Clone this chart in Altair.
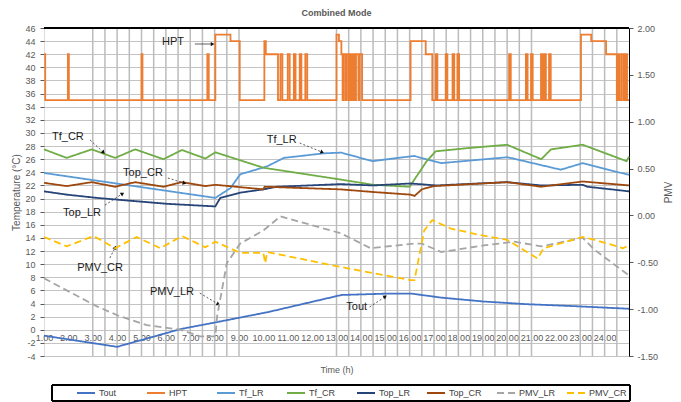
import math
import altair as alt
import pandas as pd

SERIES = ["Tout", "HPT", "Tf_LR", "Tf_CR", "Top_LR", "Top_CR", "PMV_LR", "PMV_CR"]
COLORS = ["#4472C4", "#ED7D31", "#5B9BD5", "#70AD47", "#264478", "#9E480E", "#A5A5A5", "#FFC000"]
DASHES = [[1, 0]] * 6 + [[7, 4], [7, 4]]

# ---- series data (time in hours) ----
tout_t = [0, 3.0, 5.6, 7.0, 9.2, 12.2, 14.0, 15.1, 16.3, 18.05, 19.8, 21.75, 24]
tout_v = [-0.9, -2.6, 0.1, 1.1, 2.7, 5.3, 5.5, 5.5, 4.9, 4.3, 3.9, 3.6, 3.2]

hpt_t = [0.0, 0.05, 0.98, 1.02, 4.0, 4.04, 6.7, 6.76, 7.03, 7.65, 8.03, 9.04, 9.1, 9.6, 9.7, 9.78,
         10.0, 10.08, 10.25, 10.32, 10.49, 10.56, 10.72, 10.8, 12.0, 12.1, 12.2, 12.25, 12.3, 12.38,
         12.42, 12.5, 12.55, 12.62, 12.68, 12.75, 12.8, 12.9, 12.95, 13.05, 15.04, 15.66, 15.93,
         16.07, 16.14, 16.48, 16.55, 16.76, 16.83, 16.96, 17.03, 19.08, 19.15, 19.77, 19.84, 19.98,
         20.05, 20.39, 20.46, 20.52, 20.59, 20.72, 20.79, 22.03, 22.45, 23.06, 23.5, 23.55, 23.62,
         23.7, 23.78, 23.85, 23.92, 24.0]
hpt_v = [42, 35, 42, 35, 42, 35, 42, 35, 45, 44, 35, 44, 42, 35, 42, 35,
         42, 35, 42, 35, 42, 35, 42, 35, 45, 44, 42, 35, 42, 35,
         42, 35, 42, 35, 42, 35, 42, 35, 42, 35, 44, 42, 35,
         42, 35, 42, 35, 42, 35, 42, 35, 42, 35, 42, 35, 42,
         35, 42, 35, 42, 35, 42, 35, 45, 44, 42, 35, 42, 35,
         42, 35, 42, 35, 35]

tflr_t = [0, 7.03, 7.65, 8.05, 9.15, 9.84, 11.5, 12.2, 13.47, 15.18, 16.28, 19.02, 21.2, 22.1, 24]
tflr_v = [23.9, 20.1, 21.6, 23.7, 24.9, 26.2, 26.9, 27.0, 25.7, 26.5, 25.4, 26.3, 24.4, 25.4, 23.6]

tfcr_t = [0, 0.93, 1.96, 2.92, 3.74, 4.9, 5.66, 6.62, 7.03, 9.0, 12.17, 13.5, 15.0, 15.7, 16.07,
          17.4, 19.0, 20.4, 20.8, 22.1, 23.9, 24]
tfcr_v = [27.5, 26.2, 27.5, 26.2, 27.5, 26.0, 27.4, 26.1, 27.05, 24.7, 22.9, 22.1, 21.8, 25.7, 27.2,
          27.7, 28.2, 26.0, 27.5, 28.2, 25.7, 26.4]

toplr_t = [0, 0.93, 2.17, 5.04, 7.03, 7.23, 8.05, 9.0, 9.56, 12.17, 13.5, 15.04, 16.1, 19.0, 20.4,
           22.1, 22.3, 24]
toplr_v = [21.1, 20.6, 20.1, 19.2, 18.8, 20.1, 20.9, 21.4, 21.8, 22.2, 22.0, 22.3, 22.0, 22.5, 22.0,
           22.1, 21.8, 21.1]

topcr_t = [0, 0.93, 1.96, 2.92, 3.74, 4.9, 5.66, 6.62, 7.03, 9.0, 9.05, 12.17, 13.5, 15.04, 15.2,
           15.5, 16.0, 19.0, 20.4, 22.1, 24]
topcr_v = [22.4, 21.9, 22.5, 21.8, 22.5, 21.8, 22.5, 21.9, 22.1, 21.4, 21.8, 21.4, 21.0, 20.6, 20.4,
           21.4, 21.9, 22.5, 21.8, 22.6, 22.0]

pmvlr_t = [0, 0.93, 2.17, 3.05, 4.22, 5.6, 6.4, 7.03, 7.1, 7.5, 8.05, 9.0, 9.7, 12.17, 13.4, 15.2,
           15.5, 16.3, 18.05, 19.3, 20.4, 22.1, 22.6, 24]
pmvlr_v = [-0.67, -0.80, -0.97, -1.07, -1.17, -1.22, -1.29, -1.29, -1.08, -0.51, -0.30, -0.16, -0.01,
           -0.19, -0.35, -0.30, -0.30, -0.39, -0.32, -0.28, -0.33, -0.24, -0.37, -0.64]

pmvcr_t = [0, 0.93, 2.03, 2.92, 3.8, 4.77, 5.66, 6.62, 7.03, 8.05, 9.0, 9.08, 9.15, 12.17, 15.04,
           15.2, 15.6, 15.93, 16.7, 17.9, 19.0, 20.25, 20.5, 22.1, 22.6, 23.75, 24]
pmvcr_v = [-0.23, -0.33, -0.22, -0.35, -0.23, -0.35, -0.22, -0.34, -0.28, -0.40, -0.40, -0.51, -0.39,
           -0.55, -0.69, -0.69, -0.16, -0.05, -0.14, -0.21, -0.26, -0.46, -0.35, -0.23, -0.26, -0.35,
           -0.32]

x_ticks = list(range(24))
left_ticks = list(range(-4, 47, 2))
right_ticks = [-1.5, -1.0, -0.5, 0.0, 0.5, 1.0, 1.5, 2.0]
vgrid_hours = [2.0 + 0.5 * i for i in range(13)] + [12.0 + 0.5 * i for i in range(17)] + [22.0, 22.5, 23.0, 23.5]

ann_text = ["HPT", "Tf_CR", "Tf_LR", "Top_CR", "Top_LR", "PMV_CR", "PMV_LR", "Tout"]
ann_tx = [5.29, 0.98, 9.75, 4.06, 1.56, 2.30, 5.25, 12.83]
ann_ty = [43.9, 29.4, 29.0, 23.9, 17.8, 9.4, 5.8, 3.4]
lead_t1 = [6.19, 1.89, 10.49, 5.08, 2.5, 2.7, 6.39, 13.36]
lead_v1 = [43.56, 28.93, 28.47, 23.13, 19.0, 10.94, 5.6, 3.47]
lead_t2 = [6.89, 2.42, 11.39, 5.74, 3.2, 2.91, 7.13, 13.98]
lead_v2 = [43.56, 27.1, 27.1, 22.37, 20.7, 12.46, 3.93, 5.0]

# ---- frames ----
W, H = 585, 328
PX_H = W / 24.0
PX_T = H / 50.0


def frame(name, ts, vs):
    return pd.DataFrame({"t": ts, "v": vs, "series": name})


temps = pd.concat([frame("Tout", tout_t, tout_v), frame("Tf_LR", tflr_t, tflr_v),
                   frame("Tf_CR", tfcr_t, tfcr_v), frame("Top_LR", toplr_t, toplr_v),
                   frame("Top_CR", topcr_t, topcr_v)], ignore_index=True)
hpt = frame("HPT", hpt_t, hpt_v)
pmv = pd.concat([frame("PMV_LR", pmvlr_t, pmvlr_v), frame("PMV_CR", pmvcr_t, pmvcr_v)], ignore_index=True)
vgrid = pd.DataFrame({"t": vgrid_hours})
ann = pd.DataFrame({"label": ann_text, "t": ann_tx, "v": ann_ty})
angles = []
for a, b, c, d in zip(lead_t1, lead_v1, lead_t2, lead_v2):
    dx = (c - a) * PX_H
    dy = -(d - b) * PX_T
    angles.append(math.degrees(math.atan2(dx, -dy)) % 360)
leads = pd.DataFrame({"t": lead_t1, "v": lead_v1, "t2": lead_t2, "v2": lead_v2,
                      "ang": angles, "solid": [1, 0, 0, 0, 0, 0, 0, 0]})

FONT = "Liberation Sans"
GRAY = "#595959"

x_scale = alt.Scale(domain=[0, 24], nice=False, zero=False)
x_axis = alt.Axis(values=x_ticks, labelExpr="format(datum.value + 1, '.2f')", title="Time (h)",
                  grid=False, domain=False, ticks=False, offset=-26, labelFontSize=9,
                  labelColor=GRAY, labelPadding=3, labelFlush=False, labelOverlap=False,
                  titleFontSize=9, titleColor=GRAY, titleFontWeight="normal", titlePadding=23,
                  labelFont=FONT, titleFont=FONT)

yl_scale = alt.Scale(domain=[-4, 46], nice=False, zero=False)
yl_axis = alt.Axis(values=left_ticks, labelExpr="'' + datum.value", title="Temperature (°C)",
                   grid=True, gridColor="#c4c4c4", gridWidth=1.2, domain=False, tickColor=GRAY,
                   tickSize=4, labelPadding=5, labelFontSize=9, labelColor=GRAY, labelFont=FONT,
                   titleFont=FONT, titleFontSize=10, titleFontWeight="normal", titleColor=GRAY,
                   titlePadding=3)


def XX(field="t"):
    return alt.X(f"{field}:Q", scale=x_scale, axis=x_axis)


def YY(field="v"):
    return alt.Y(f"{field}:Q", scale=yl_scale, axis=yl_axis)


yr_scale = alt.Scale(domain=[-1.5, 2], nice=False, zero=False)
yr_axis = alt.Axis(orient="right", values=right_ticks,
                   labelExpr="replace(format(datum.value, '.2f'), '\u2212', '-')",
                   title="PMV", titleAngle=270, grid=False, domain=True, domainColor="#000000",
                   domainWidth=1, tickColor=GRAY, tickSize=4, labelPadding=4, labelFontSize=9,
                   labelColor=GRAY, labelFont=FONT, titleFont=FONT, titleFontSize=10,
                   titleFontWeight="normal", titleColor=GRAY, titlePadding=16)
YR = alt.Y("v:Q", scale=yr_scale, axis=yr_axis)

legend = alt.Legend(title=None, orient="none", legendX=32, legendY=355, direction="horizontal",
                    symbolType="stroke", symbolSize=324, symbolStrokeWidth=2, labelFontSize=9,
                    labelColor="#404040", labelFont=FONT, gridAlign="all", columnPadding=6,
                    labelOffset=3, padding=0)
COLOR = alt.Color("series:N", scale=alt.Scale(domain=SERIES, range=COLORS), legend=legend)
DASH = alt.StrokeDash("series:N", scale=alt.Scale(domain=SERIES, range=DASHES), legend=legend)

vgrid_layer = alt.Chart(vgrid).mark_rule(color="#bcbcbc", strokeWidth=1.5).encode(x=XX())
top_rule = alt.Chart(vgrid).mark_rule(color="#000000", strokeWidth=1).encode(
    x=alt.value(0), x2=alt.value(W), y=alt.value(0))
legend_box = alt.Chart(vgrid).mark_rect(fill=None, stroke="#000000", strokeWidth=1).encode(
    x=alt.value(8), x2=alt.value(586), y=alt.value(357), y2=alt.value(373))

hpt_layer = alt.Chart(hpt).mark_line(interpolate="step-after", strokeWidth=1.8).encode(
    x=XX(), y=YY(), color=COLOR)
temp_layer = alt.Chart(temps).mark_line(strokeWidth=1.8).encode(
    x=XX(), y=YY(), color=COLOR, strokeDash=DASH, detail="series:N")

ann_text_layer = alt.Chart(ann).mark_text(fontSize=11, font=FONT, color="#1a1a1a").encode(
    x=XX(), y=YY(), text="label:N")
lead_layer = alt.Chart(leads).mark_rule(strokeWidth=0.8, color="#333333").encode(
    x=XX(), y=YY(), x2="t2:Q", y2="v2:Q",
    strokeDash=alt.condition("datum.solid == 1", alt.value([1, 0]), alt.value([2, 2])))
head_layer = alt.Chart(leads).mark_point(shape="triangle", filled=True, size=18, color="#111111",
                                         opacity=1).encode(
    x=XX("t2"), y=YY("v2"), angle=alt.Angle("ang:Q", scale=None))

left = alt.layer(vgrid_layer, top_rule, legend_box, hpt_layer, temp_layer, lead_layer, head_layer,
                 ann_text_layer)

pmv_layer = alt.Chart(pmv).mark_line(strokeWidth=1.8).encode(
    x=XX(), y=YR, color=COLOR, strokeDash=DASH, detail="series:N")

chart = alt.layer(left, pmv_layer).resolve_scale(y="independent").properties(
    width=W, height=H,
    title=alt.TitleParams("Combined Mode", fontSize=9, fontWeight="bold", color=GRAY,
                          anchor="middle", offset=6, font=FONT),
    autosize=alt.AutoSizeParams(type="none"),
    padding={"left": 44, "top": 28, "right": 52, "bottom": 46},
).configure_view(stroke=None).configure(background="white")

chart.save("out.html", embed_options={"renderer": "svg", "actions": False})
